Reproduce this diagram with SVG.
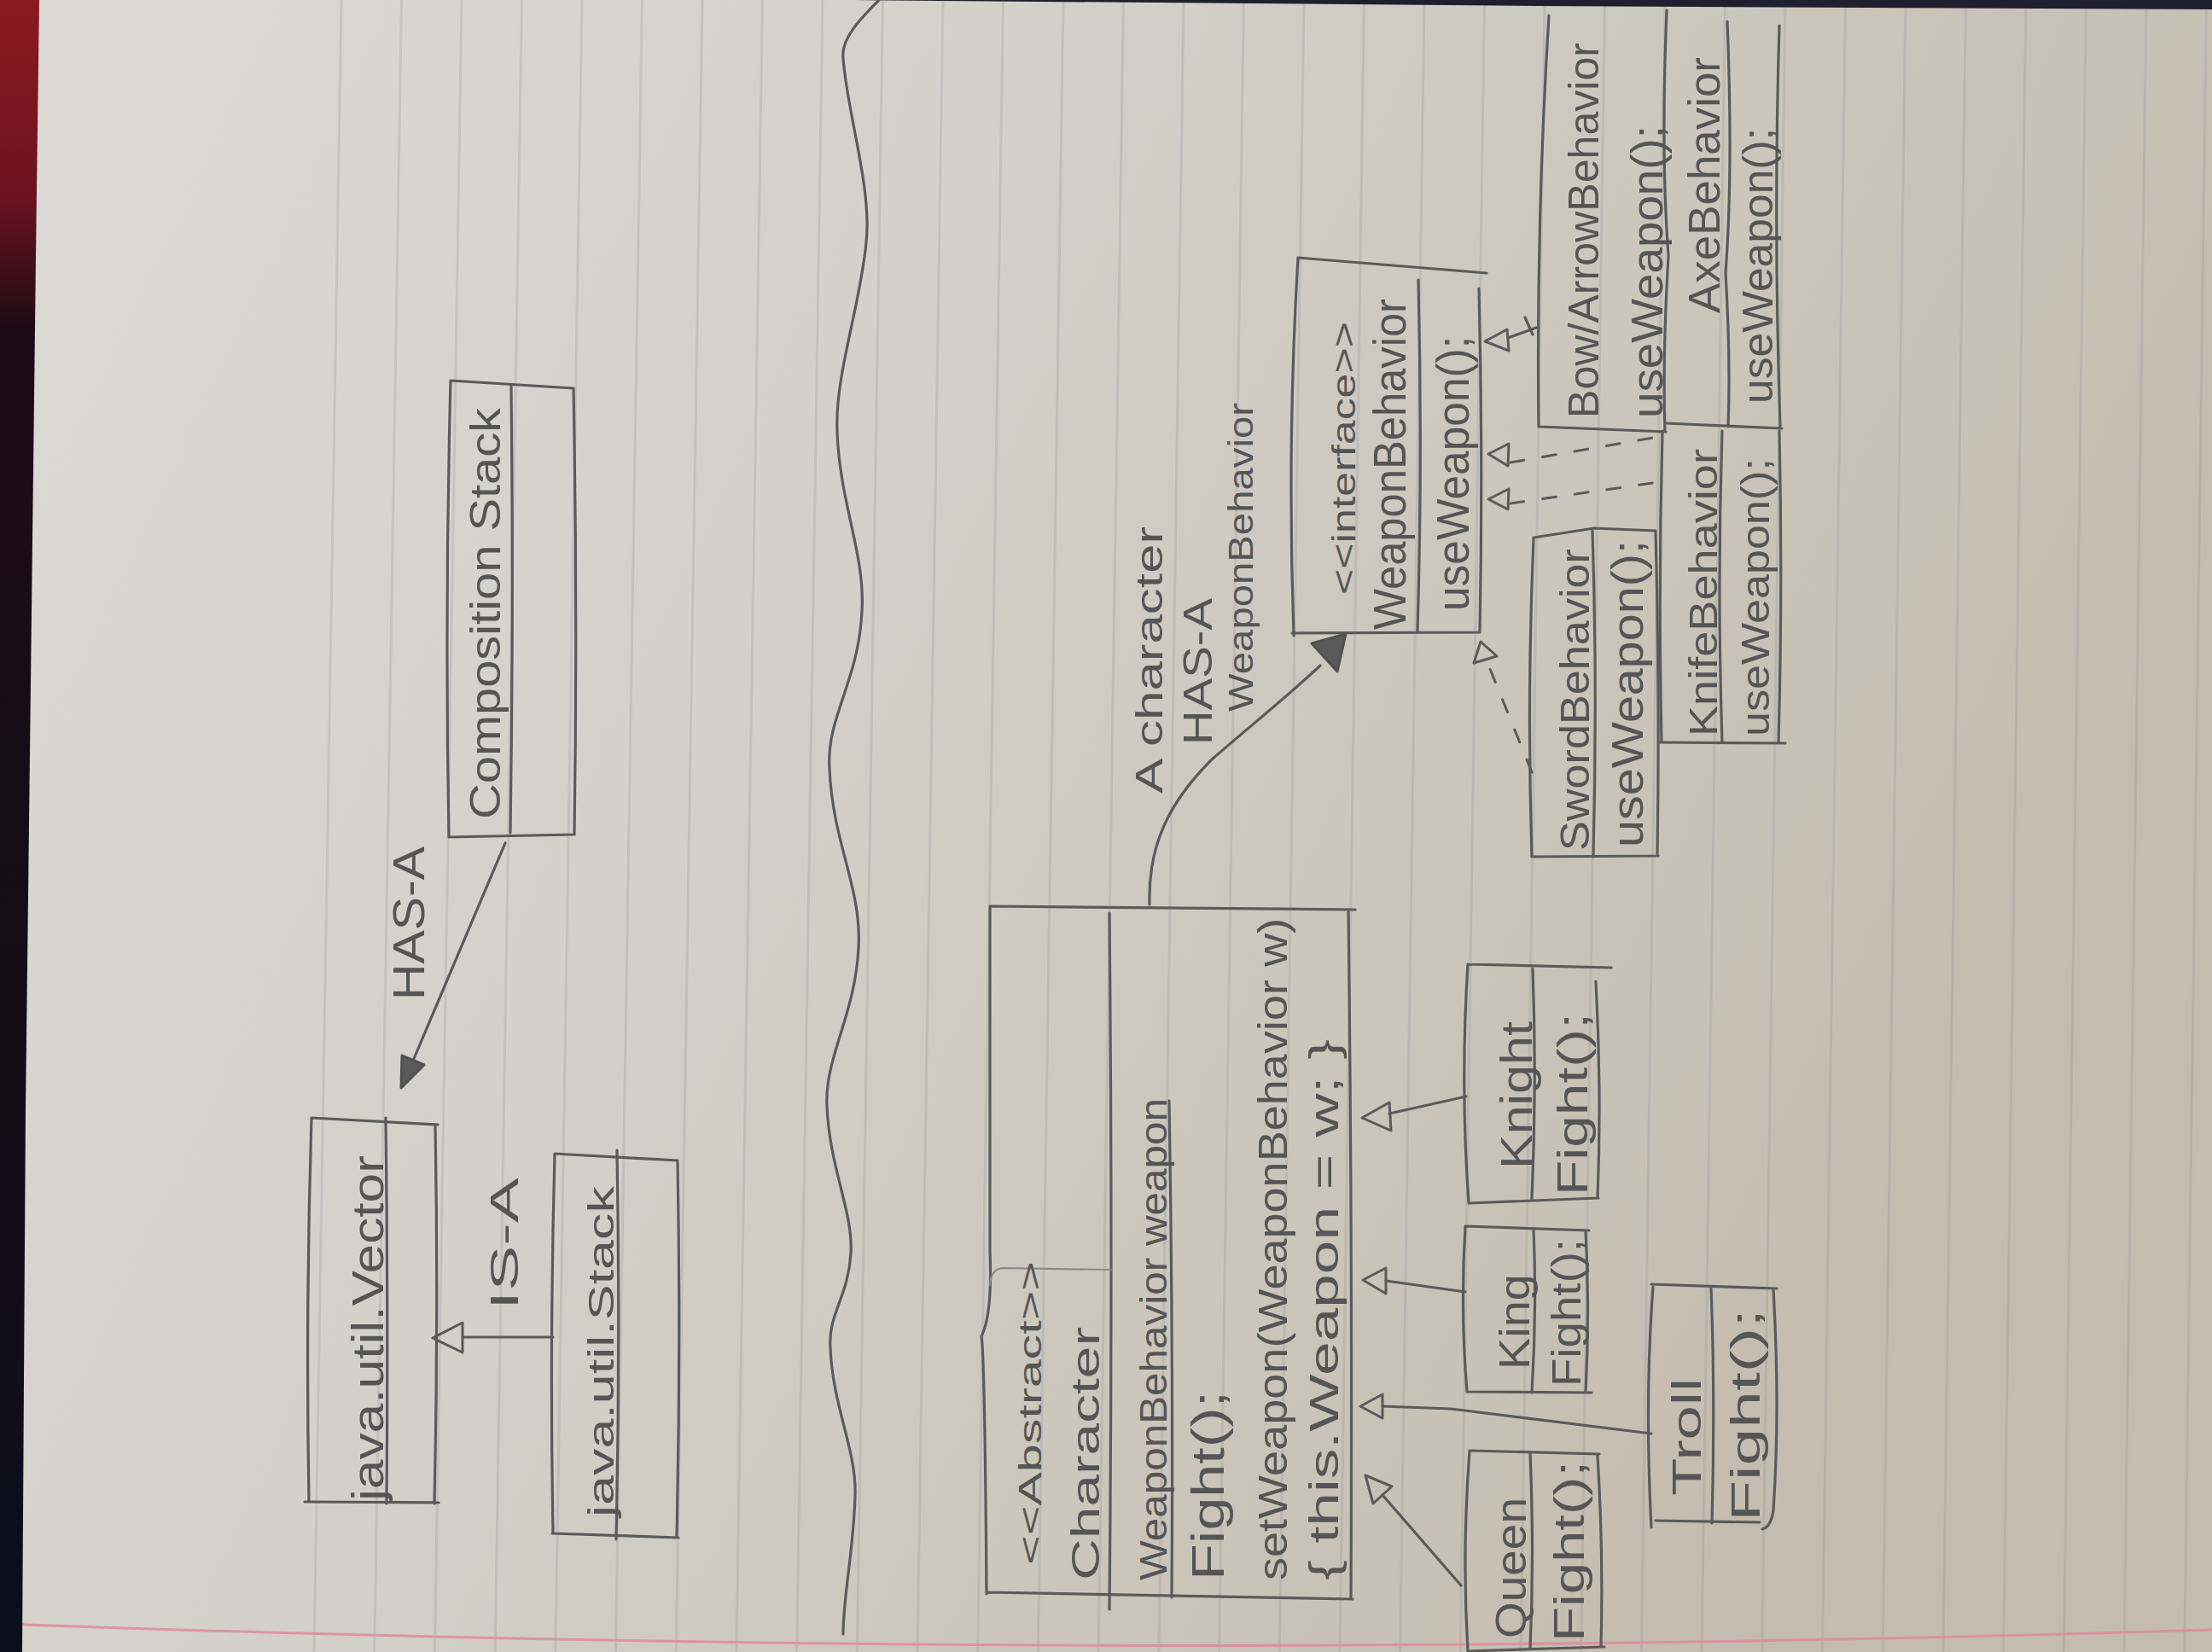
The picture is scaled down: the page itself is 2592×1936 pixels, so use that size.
<svg xmlns="http://www.w3.org/2000/svg" width="2592" height="1936" viewBox="0 0 2592 1936">
  <defs>
    <linearGradient id="paper" x1="0" y1="0" x2="1" y2="0.35">
      <stop offset="0" stop-color="#dbdad6"/>
      <stop offset="0.45" stop-color="#d3d0c9"/>
      <stop offset="1" stop-color="#c4bcae"/>
    </linearGradient>
    <linearGradient id="cover" x1="0" y1="0" x2="0" y2="1">
      <stop offset="0" stop-color="#8c1a20"/>
      <stop offset="0.12" stop-color="#6a1220"/>
      <stop offset="0.2" stop-color="#1c0c14"/>
      <stop offset="1" stop-color="#0c0e1a"/>
    </linearGradient>
    <style>
      .rule { stroke: #8f9098; stroke-opacity: 0.24; stroke-width: 3; fill: none; }
      .pen { stroke: #5a5a5a; stroke-width: 3.2; fill: none; stroke-linecap: round; stroke-linejoin: round; }
      .faint { stroke: #8a8a8a; stroke-width: 2.2; fill: none; stroke-linecap: round; }
      .dash { stroke: #5a5a5a; stroke-width: 3; fill: none; stroke-dasharray: 16 22; stroke-linecap: round; }
      .open { stroke: #5a5a5a; stroke-width: 3; fill: none; stroke-linejoin: round; }
      .solid { stroke: #505050; stroke-width: 3; fill: #5a5a5a; stroke-linejoin: round; }
      .t { font-family: "Liberation Sans", Arial, sans-serif; fill: #555555; }
    </style>
  </defs>

  <!-- paper sheet -->
  <rect x="0" y="0" width="2592" height="1936" fill="url(#paper)"/>

  <!-- ruled lines -->
  <g id="ruling">
    <path class="rule" d="M400,0 L368,1936 M470.5,0 L438.7,1936 M541,0 L509.4,1936 M611.5,0 L580.1,1936 M682,0 L650.8,1936 M752.5,0 L721.5,1936 M823,0 L792.2,1936 M893.5,0 L862.9,1936 M964,0 L933.6,1936 M1034.5,0 L1004.3,1936 M1105,0 L1075,1936 M1175.5,0 L1145.7,1936 M1246,0 L1216.4,1936 M1316.5,0 L1287.1,1936 M1387,0 L1357.8,1936 M1457.5,0 L1428.5,1936 M1528,0 L1499.2,1936 M1598.5,0 L1569.9,1936 M1669,0 L1640.6,1936 M1739.5,0 L1711.3,1936 M1810,0 L1782,1936 M1880.5,0 L1852.7,1936 M1951,0 L1923.4,1936 M2021.5,0 L1994.1,1936 M2092,0 L2064.8,1936 M2162.5,0 L2135.5,1936 M2233,0 L2206.2,1936 M2303.5,0 L2276.9,1936 M2374,0 L2347.6,1936 M2444.5,0 L2418.3,1936 M2515,0 L2489,1936 M2585.5,0 L2559.7,1936"/>
    <path d="M0,1903 Q1300,1950 2592,1910" stroke="#e0889a" stroke-width="3" fill="none" stroke-opacity="0.85"/>
  </g>

  <!-- notebook cover edges -->
  <path d="M0,0 L46,0 L42,300 L36,800 L30,1300 L26,1936 L0,1936 Z" fill="url(#cover)"/>
  <path d="M1000,0 L2592,0 L2592,11 L1800,7 Z" fill="#1e2030"/>

  <!-- wavy section divider -->
  <path class="pen" stroke-width="2.6" d="M1030,0 C1010,20 985,45 988,68 C992,130 1022,220 1015,284 C1008,360 978,440 981,506 C984,590 1014,650 1010,716 C1006,800 968,840 972,901 C976,990 1010,1040 1006,1111 C1002,1190 966,1240 969,1296 C972,1370 1000,1420 997,1469 C994,1520 970,1540 973,1580 C976,1650 1004,1700 1002,1753 C1000,1820 988,1870 988,1915"/>

  <!-- upper-left sketch: Vector / Stack / Composition Stack -->
  <g id="composition-stack">
    <path class="pen" d="M528,446 L672,455 Q677,715 673,978 L526,981 Q521,715 528,446 Z"/>
    <path class="pen" d="M599,452 Q602,715 598,976"/>
    <text class="t" font-size="50" transform="translate(586,960) rotate(-90)" textLength="482" lengthAdjust="spacingAndGlyphs">Composition Stack</text>
  </g>

  <g id="java-util-vector">
    <path class="pen" d="M365,1310 L513,1318 M510,1318 Q514,1540 509,1762 M357,1760 L514,1761 M365,1310 Q358,1535 362,1760"/>
    <path class="pen" d="M452,1310 Q455,1535 453,1762"/>
    <text class="t" font-size="52" transform="translate(449,1759) rotate(-90)" textLength="405" lengthAdjust="spacingAndGlyphs">java.util.Vector</text>
  </g>

  <g id="java-util-stack">
    <path class="pen" d="M650,1352 L794,1360 M794,1362 Q798,1580 793,1800 M647,1797 L795,1802 M650,1352 Q644,1575 648,1797"/>
    <path class="pen" d="M723,1348 Q727,1575 722,1804"/>
    <text class="t" font-size="42" transform="translate(719,1778) rotate(-90)" textLength="388" lengthAdjust="spacingAndGlyphs">java.util.Stack</text>
  </g>

  <!-- lower sketch: Character and weapon behaviours -->
  <g id="character">
    <path class="pen" d="M1160,1062 L1588,1066 M1580,1066 Q1585,1470 1583,1872 M1157,1866 L1585,1874 M1160,1064 L1160,1466 Q1163,1540 1150,1566 Q1154,1590 1156,1868"/>
    <path class="pen" d="M1300,1070 Q1304,1480 1300,1886"/>
    <path class="pen" d="M1370,1290 Q1375,1580 1373,1872"/>
    <path class="faint" d="M1302,1488 L1174,1486 Q1161,1488 1160,1506"/>
    <text class="t" font-size="36" transform="translate(1220,1834) rotate(-90)" textLength="356" lengthAdjust="spacingAndGlyphs">&lt;&lt;Abstract&gt;&gt;</text>
    <text class="t" font-size="46" transform="translate(1288,1852) rotate(-90)" textLength="297" lengthAdjust="spacingAndGlyphs">Character</text>
    <text class="t" font-size="44" transform="translate(1367,1852) rotate(-90)" textLength="565" lengthAdjust="spacingAndGlyphs">WeaponBehavior weapon</text>
    <text class="t" font-size="54" transform="translate(1434,1852) rotate(-90)" textLength="222" lengthAdjust="spacingAndGlyphs">Fight();</text>
    <text class="t" font-size="48" transform="translate(1508,1852) rotate(-90)" textLength="776" lengthAdjust="spacingAndGlyphs">setWeapon(WeaponBehavior w)</text>
    <text class="t" font-size="48" transform="translate(1568,1852) rotate(-90)" textLength="634" lengthAdjust="spacingAndGlyphs">{ this.Weapon = w; }</text>
  </g>

  <g id="weapon-behavior">
    <path class="pen" d="M1521,302 L1742,320 M1733,338 Q1738,540 1734,740 M1514,742 L1734,741 M1521,302 Q1508,520 1516,745"/>
    <path class="pen" d="M1662,328 Q1667,540 1661,740"/>
    <text class="t" font-size="38" transform="translate(1588,697) rotate(-90)" textLength="320" lengthAdjust="spacingAndGlyphs">&lt;&lt;interface&gt;&gt;</text>
    <text class="t" font-size="54" transform="translate(1647,738) rotate(-90)" textLength="388" lengthAdjust="spacingAndGlyphs">WeaponBehavior</text>
    <text class="t" font-size="54" transform="translate(1721,716) rotate(-90)" textLength="322" lengthAdjust="spacingAndGlyphs">useWeapon();</text>
  </g>

  <g id="bow-arrow-behavior">
    <path class="pen" d="M1815,18 Q1800,260 1803,500 L1952,506 M1953,12 Q1946,180 1955,300 Q1948,420 1951,506"/>
    <text class="t" font-size="50" transform="translate(1873,490) rotate(-90)" textLength="440" lengthAdjust="spacingAndGlyphs">Bow/ArrowBehavior</text>
    <text class="t" font-size="52" transform="translate(1948,490) rotate(-90)" textLength="343" lengthAdjust="spacingAndGlyphs">useWeapon();</text>
  </g>

  <g id="axe-behavior">
    <path class="pen" d="M2024,25 Q2031,200 2022,320 Q2028,420 2025,500 M2085,30 Q2078,260 2086,500 M1952,496 L2088,502"/>
    <text class="t" font-size="52" transform="translate(2015,367) rotate(-90)" textLength="300" lengthAdjust="spacingAndGlyphs">AxeBehavior</text>
    <text class="t" font-size="50" transform="translate(2077,473) rotate(-90)" textLength="323" lengthAdjust="spacingAndGlyphs">useWeapon();</text>
  </g>

  <g id="knife-behavior">
    <path class="pen" d="M1948,505 Q1943,690 1947,870 M2018,505 Q2012,690 2018,870 M2085,505 Q2089,690 2084,870 M1945,870 L2092,871"/>
    <text class="t" font-size="46" transform="translate(2012,863) rotate(-90)" textLength="337" lengthAdjust="spacingAndGlyphs">KnifeBehavior</text>
    <text class="t" font-size="46" transform="translate(2073,863) rotate(-90)" textLength="326" lengthAdjust="spacingAndGlyphs">useWeapon();</text>
  </g>

  <g id="sword-behavior">
    <path class="pen" d="M1797,630 L1868,619 L1940,622 M1797,630 Q1789,820 1795,1004 L1943,1003 M1940,622 Q1945,810 1942,1003"/>
    <path class="pen" d="M1866,622 Q1872,810 1867,1004"/>
    <text class="t" font-size="48" transform="translate(1862,997) rotate(-90)" textLength="354" lengthAdjust="spacingAndGlyphs">SwordBehavior</text>
    <text class="t" font-size="52" transform="translate(1925,993) rotate(-90)" textLength="360" lengthAdjust="spacingAndGlyphs">useWeapon();</text>
  </g>

  <g id="knight">
    <path class="pen" d="M1720,1130 L1888,1134 M1720,1130 Q1711,1270 1721,1410 L1873,1404 M1870,1150 Q1877,1280 1872,1404"/>
    <path class="pen" d="M1796,1135 Q1801,1270 1795,1405"/>
    <text class="t" font-size="52" transform="translate(1795,1370) rotate(-90)" textLength="173" lengthAdjust="spacingAndGlyphs">Knight</text>
    <text class="t" font-size="50" transform="translate(1860,1401) rotate(-90)" textLength="214" lengthAdjust="spacingAndGlyphs">Fight();</text>
  </g>

  <g id="king">
    <path class="pen" d="M1718,1437 L1862,1442 M1717,1437 Q1711,1535 1719,1631 L1865,1632 M1858,1442 Q1863,1535 1858,1632"/>
    <path class="pen" d="M1797,1440 Q1801,1535 1795,1632"/>
    <text class="t" font-size="50" transform="translate(1792,1605) rotate(-90)" textLength="112" lengthAdjust="spacingAndGlyphs">King</text>
    <text class="t" font-size="48" transform="translate(1852,1625) rotate(-90)" textLength="173" lengthAdjust="spacingAndGlyphs">Fight();</text>
  </g>

  <g id="queen">
    <path class="pen" d="M1723,1700 L1874,1704 M1722,1700 Q1713,1820 1720,1935 L1880,1930 M1872,1706 Q1879,1820 1876,1930"/>
    <path class="pen" d="M1793,1702 Q1798,1820 1793,1932"/>
    <text class="t" font-size="50" transform="translate(1788,1920) rotate(-90)" textLength="165" lengthAdjust="spacingAndGlyphs">Queen</text>
    <text class="t" font-size="50" transform="translate(1856,1924) rotate(-90)" textLength="212" lengthAdjust="spacingAndGlyphs">Fight();</text>
  </g>

  <g id="troll">
    <path class="pen" d="M1935,1505 L2082,1510 M1937,1508 Q1927,1640 1935,1790 M1940,1782 L2062,1784 M2078,1512 Q2086,1650 2078,1770 Q2075,1790 2065,1792"/>
    <path class="pen" d="M2005,1508 Q2010,1640 2006,1785"/>
    <text class="t" font-size="48" transform="translate(1993,1753) rotate(-90)" textLength="138" lengthAdjust="spacingAndGlyphs">Troll</text>
    <text class="t" font-size="48" transform="translate(2062,1783) rotate(-90)" textLength="249" lengthAdjust="spacingAndGlyphs">Fight();</text>
  </g>

  <!-- relationships -->
  <g id="connectors">
    <!-- Composition Stack has a Vector -->
    <path class="pen" d="M592,988 L484,1243"/>
    <path class="solid" d="M470,1275 L497,1248 L471,1237 Z"/>
    <text class="t" font-size="52" transform="translate(497,1172) rotate(-90)" textLength="180" lengthAdjust="spacingAndGlyphs">HAS-A</text>

    <!-- Stack is a Vector -->
    <path class="pen" d="M648,1567 L542,1567"/>
    <path class="open" d="M542,1550 L542,1585 L507,1568 Z"/>
    <text class="t" font-size="46" transform="translate(607,1535) rotate(-90)" textLength="155" lengthAdjust="spacingAndGlyphs">IS-A</text>

    <!-- Character has a WeaponBehavior -->
    <path class="pen" d="M1347,1060 C1345,990 1370,940 1420,890 C1460,855 1510,815 1547,780"/>
    <path class="solid" d="M1537,754 L1577,743 L1567,787 Z"/>
    <text class="t" font-size="44" transform="translate(1362,930) rotate(-90)" textLength="313" lengthAdjust="spacingAndGlyphs">A character</text>
    <text class="t" font-size="48" transform="translate(1420,873) rotate(-90)" textLength="172" lengthAdjust="spacingAndGlyphs">HAS-A</text>
    <text class="t" font-size="40" transform="translate(1468,834) rotate(-90)" textLength="362" lengthAdjust="spacingAndGlyphs">WeaponBehavior</text>

    <!-- behaviours implement the interface -->
    <path class="dash" d="M1795,905 L1742,774"/>
    <path class="open" d="M1735,752 L1754,769 L1727,777 Z"/>
    <path class="dash" d="M1770,542 L1943,512"/>
    <path class="open" d="M1744,532 L1768,520 L1767,546 Z"/>
    <path class="dash" d="M1770,590 L1943,565"/>
    <path class="open" d="M1744,585 L1768,573 L1767,597 Z"/>
    <path class="pen" d="M1767,396 L1800,384 M1787,372 L1796,392"/>
    <path class="open" d="M1740,400 L1766,386 L1768,411 Z"/>

    <!-- characters extend Character -->
    <path class="pen" d="M1628,1305 L1718,1285"/>
    <path class="open" d="M1596,1310 L1628,1292 L1630,1325 Z"/>
    <path class="pen" d="M1624,1501 L1717,1514"/>
    <path class="open" d="M1597,1500 L1624,1486 L1624,1516 Z"/>
    <path class="pen" d="M1620,1648 L1700,1651 L1935,1680"/>
    <path class="open" d="M1594,1648 L1620,1634 L1620,1662 Z"/>
    <path class="pen" d="M1620,1752 L1712,1858"/>
    <path class="open" d="M1600,1729 L1631,1742 L1609,1762 Z"/>
  </g>
</svg>
